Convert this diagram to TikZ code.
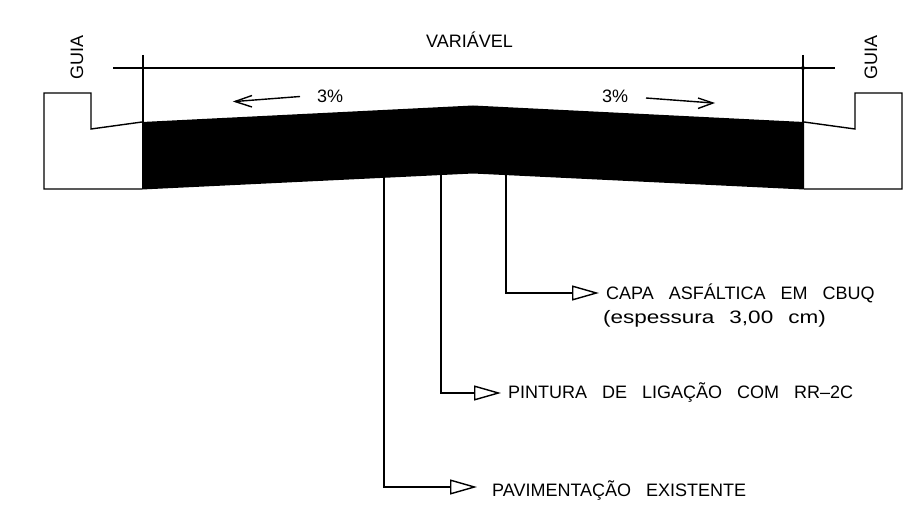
\documentclass[tikz,border=0pt]{standalone}
\usepackage{fontspec}
\setmainfont{Liberation Sans}
\newfontfamily\widefont[FakeStretch=1.25]{Liberation Sans}
\usetikzlibrary{arrows.meta}
\tikzset{
  cad/.style={line width=1.4pt,black,line join=miter},
  thinline/.style={line width=1.4pt,black},
  leader/.style={line width=1.4pt,black,-{Triangle[open,length=27pt,width=15pt,line width=1.4pt]}},
  slope/.style={line width=1.4pt,black},
  lbl/.style={inner sep=0pt,anchor=base west,font=\fontsize{18pt}{20pt}\selectfont,text=black},
  vlbl/.style={inner sep=0pt,anchor=base west,rotate=90,font=\fontsize{18pt}{20pt}\selectfont,text=black},
  wsp/.style={execute at begin node={\spaceskip=#1\relax}}
}
\begin{document}
\begin{tikzpicture}[x=1pt,y=-1pt]
\useasboundingbox (0,0) rectangle (924,516);
% pavement layer
\fill[black] (142,122) -- (473,105.5) -- (804,122) -- (804,189.5) -- (473,173.5) -- (142,189.5) -- cycle;
% curbs
\draw[cad] (142,122) -- (91,129) -- (91,93) -- (44,93) -- (44,189) -- (142,189);
\draw[cad] (804,122) -- (855,129) -- (855,93) -- (902,93) -- (902,189) -- (804,189);
% dimension line
\coordinate (dimL) at (113,68);
\coordinate (dimR) at (835,68);
\coordinate (extLa) at (143,55);
\coordinate (extLb) at (143,122);
\coordinate (extRa) at (803,55);
\coordinate (extRb) at (803,122);
\draw[thinline] (dimL) -- (dimR);
\draw[thinline] (extLa) -- (extLb);
\draw[thinline] (extRa) -- (extRb);
\fill[black] (803,68) circle (2pt);
% texts
\node[lbl] (var) at (426,48) {VARIÁVEL};
\node[vlbl] (g1) at (83,80) {GUIA};
\node[vlbl] (g2) at (877,80) {GUIA};
\node[lbl] (p1) at (317,103) {3\%};
\node[lbl] (p2) at (602,103) {3\%};
\node[lbl,wsp=15pt] (capa) at (606,299) {CAPA ASFÁLTICA EM CBUQ};
\node[lbl,wsp=15pt] (esp) at (603,323) {\widefont (espessura 3,00 cm)};
\node[lbl,wsp=15pt] (pint) at (508,398) {PINTURA DE LIGAÇÃO COM RR--2C};
\node[lbl,wsp=15pt] (pav) at (492,496) {PAVIMENTAÇÃO EXISTENTE};
% slope arrows
\coordinate (s1a) at (300,96.5);
\coordinate (s1b) at (235,101.5);
\coordinate (s1c) at (252,95.5);
\coordinate (s1d) at (252,107);
\coordinate (s2a) at (646,98);
\coordinate (s2b) at (713,103);
\coordinate (s2c) at (698,98);
\coordinate (s2d) at (698,108.5);
\draw[slope] (s1a) -- (s1b);
\draw[slope] (s1c) -- (s1b) -- (s1d);
\draw[slope] (s2a) -- (s2b);
\draw[slope] (s2c) -- (s2b) -- (s2d);
% leaders
\coordinate (a1) at (506,174);
\coordinate (a2) at (441,174);
\coordinate (a3) at (384,177);
\coordinate (e1) at (599,293);
\coordinate (e2) at (501,393);
\coordinate (e3) at (477,487);
\draw[leader] (a1) |- (e1);
\draw[leader] (a2) |- (e2);
\draw[leader] (a3) |- (e3);
\end{tikzpicture}
\end{document}
